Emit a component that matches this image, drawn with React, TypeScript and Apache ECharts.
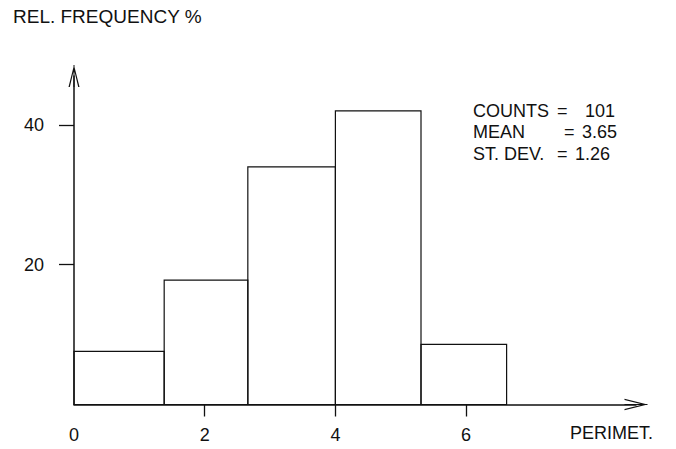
import React, { useEffect, useRef } from "react";
import * as echarts from "echarts";

// Histogram of perimeter values: bin edges and relative frequency (%)
const binStart = [0, 1.38, 2.66, 4.0, 5.31];
const binEnd = [1.38, 2.66, 4.0, 5.31, 6.62];
const relFrequency = [7.6, 17.8, 34.0, 42.0, 8.6];

const xLabelValues = [0, 2, 4, 6];
const xTickValues = [2, 4, 6];
const yTickValues = [20, 40];

const statLabels = ["COUNTS", "MEAN", "ST. DEV."];
const statValues = ["101", "3.65", "1.26"];

const FONT = "'Liberation Sans', Arial, Helvetica, sans-serif";
const INK = "#111";

// open "V" arrow head with a short shaft, pointing up in its own box
const OPEN_ARROW =
  "path://M55,0L110,220L97,220L55,46L13,220L0,220ZM50,0L60,0L60,220L50,220Z";

export default function App() {
  const ref = useRef<HTMLDivElement>(null);

  useEffect(() => {
    if (!ref.current) return;
    const chart = echarts.init(ref.current, undefined, { renderer: "svg" });

    const statTops = [101.5, 123, 144.5];
    const eqLeft = [557, 564, 557];
    const valLeft = [585, 582, 575];
    const textStyle = (text: string) => ({
      text,
      fontSize: 18,
      fontFamily: FONT,
      fill: INK,
    });

    const graphic: any[] = [];
    statLabels.forEach((label, i) => {
      graphic.push({ type: "text", left: 473, top: statTops[i], style: textStyle(label) });
      graphic.push({ type: "text", left: eqLeft[i], top: statTops[i], style: textStyle("=") });
      graphic.push({ type: "text", left: valLeft[i], top: statTops[i], style: textStyle(statValues[i]) });
    });
    graphic.push({ type: "text", left: 570, top: 424, style: textStyle("PERIMET.") });

    chart.setOption({
      animation: false,
      backgroundColor: "#fff",
      title: {
        text: "REL. FREQUENCY %",
        left: 13,
        top: 7,
        padding: 0,
        textStyle: { fontSize: 19, fontWeight: "normal", color: INK, fontFamily: FONT },
      },
      grid: { left: 74, right: 40, top: 76, bottom: 44.5, containLabel: false },
      xAxis: {
        type: "value",
        min: 0,
        max: 8.6,
        interval: 2,
        axisLine: {
          show: true,
          onZero: false,
          symbol: ["none", OPEN_ARROW],
          symbolSize: [11.5, 23],
          lineStyle: { color: INK, width: 1.5 },
        },
        axisTick: {
          show: true,
          inside: false,
          length: 12,
          customValues: xTickValues,
          lineStyle: { color: INK, width: 1.3 },
        },
        axisLabel: {
          customValues: xLabelValues,
          margin: 21,
          fontSize: 18,
          color: INK,
          fontFamily: FONT,
        },
        splitLine: { show: false },
      },
      yAxis: {
        type: "value",
        min: 0,
        max: 47,
        interval: 20,
        axisLine: {
          show: true,
          onZero: false,
          symbol: ["none", OPEN_ARROW],
          symbolSize: [11, 22],
          lineStyle: { color: INK, width: 1.5 },
        },
        axisTick: {
          show: true,
          inside: false,
          length: 15,
          customValues: yTickValues,
          lineStyle: { color: INK, width: 1.3 },
        },
        axisLabel: {
          customValues: yTickValues,
          margin: 30,
          fontSize: 18,
          color: INK,
          fontFamily: FONT,
        },
        splitLine: { show: false },
      },
      graphic,
      series: [
        {
          type: "custom",
          data: binStart.map((s, i) => [s, binEnd[i], relFrequency[i]]),
          encode: { x: [0, 1], y: 2 },
          renderItem: (_params: any, api: any) => {
            const top = api.coord([api.value(0), api.value(2)]);
            const bottom = api.coord([api.value(1), 0]);
            return {
              type: "rect",
              shape: {
                x: top[0],
                y: top[1],
                width: bottom[0] - top[0],
                height: bottom[1] - top[1],
              },
              style: { fill: "none", stroke: INK, lineWidth: 1.2 },
            };
          },
        },
      ],
    });

    return () => chart.dispose();
  }, []);

  return (
    <div
      ref={ref}
      style={{ position: "fixed", left: 0, top: 0, width: 676, height: 449, background: "#fff" }}
    />
  );
}
